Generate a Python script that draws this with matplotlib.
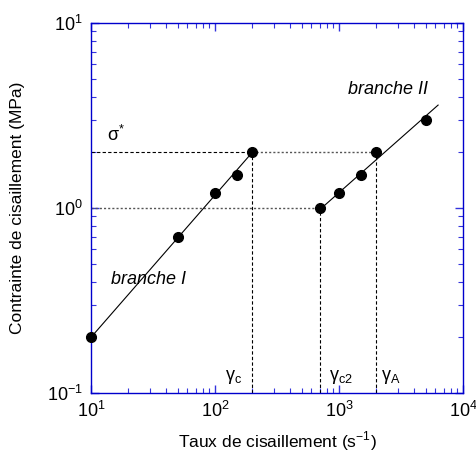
import numpy as np
import matplotlib.pyplot as plt
from matplotlib.ticker import LogLocator, NullFormatter

plt.rcParams['font.family'] = ['Liberation Sans', 'DejaVu Sans']
plt.rcParams['mathtext.fontset'] = 'custom'
plt.rcParams['mathtext.rm'] = 'Liberation Sans'

# data
rate_I = [10, 50, 100, 150, 200]
stress_I = [0.2, 0.7, 1.2, 1.5, 2.0]
rate_II = [700, 1000, 1500, 2000, 5000]
stress_II = [1.0, 1.2, 1.5, 2.0, 3.0]

# fitted lines (endpoints)
fit_I_x = [10, 200]
fit_I_y = [0.2, 2.0]
fit_II_x = [700, 6300]
fit_II_y = [0.98, 3.6]

sigma_star = 2.0
gamma_c, gamma_c2, gamma_A = 200, 700, 2000

fig = plt.figure(figsize=(4.77, 4.57), dpi=100)
ax = fig.add_axes([0.1908, 0.140, 0.7798, 0.8097])
ax.set_xscale('log')
ax.set_yscale('log')
ax.set_xlim(10, 1e4)
ax.set_ylim(0.1, 10)

# guide lines
ax.plot([10, gamma_c], [sigma_star, sigma_star], color='black', ls=(0, (3, 2)), lw=0.8)
ax.plot([gamma_c, gamma_A], [sigma_star, sigma_star], color='#555555', ls=(0, (1.5, 1.5)), lw=1.0)
ax.plot([10, gamma_c2], [1.0, 1.0], color='#555555', ls=(0, (1.5, 1.5)), lw=1.0)
for g, top in [(gamma_c, sigma_star), (gamma_c2, 1.0), (gamma_A, sigma_star)]:
    ax.plot([g, g], [0.1, top], color='black', ls=(0, (3, 2)), lw=0.8)

# fits and points
ax.plot(fit_I_x, fit_I_y, color='black', lw=0.8)
ax.plot(fit_II_x, fit_II_y, color='black', lw=0.8)
ax.plot(rate_I, stress_I, 'o', color='black', ms=7, clip_on=False, zorder=5)
ax.plot(rate_II, stress_II, 'o', color='black', ms=7, clip_on=False, zorder=5)

# annotations
ax.text(13.5, 2.3, r'$\mathregular{σ^{*}}$', fontsize=13)
ax.text(29, 0.41, 'branche I', fontsize=13, style='italic', ha='center', va='center')
ax.text(2500, 4.35, 'branche II', fontsize=13, style='italic', ha='center', va='center')
ax.text(120, 0.118, r'$\mathregular{γ_{c}}$', fontsize=13)
ax.text(830, 0.118, r'$\mathregular{γ_{c2}}$', fontsize=13)
ax.text(2180, 0.118, r'$\mathregular{γ_{A}}$', fontsize=13)

ax.set_xlabel('Taux de cisaillement (s$^{-1}$)', fontsize=12.5)
ax.set_ylabel('Contrainte de cisaillement (MPa)', fontsize=12.5)
ax.xaxis.set_label_coords(0.5, -0.098)
ax.yaxis.set_label_coords(-0.178, 0.5)

# blue axes, ticks on all sides pointing in
for sp in ax.spines.values():
    sp.set_color('#0000cc')
    sp.set_linewidth(1.0)
ax.xaxis.set_minor_locator(LogLocator(base=10, subs=np.arange(2, 10)))
ax.yaxis.set_minor_locator(LogLocator(base=10, subs=np.arange(2, 10)))
ax.xaxis.set_minor_formatter(NullFormatter())
ax.yaxis.set_minor_formatter(NullFormatter())
ax.tick_params(which='both', direction='in', top=True, right=True, color='#3333dd', labelsize=13)
ax.tick_params(which='major', length=6, width=1.0, pad=6)
ax.tick_params(which='minor', length=3.5, width=0.8)

fig.savefig('out.png', dpi=100)
